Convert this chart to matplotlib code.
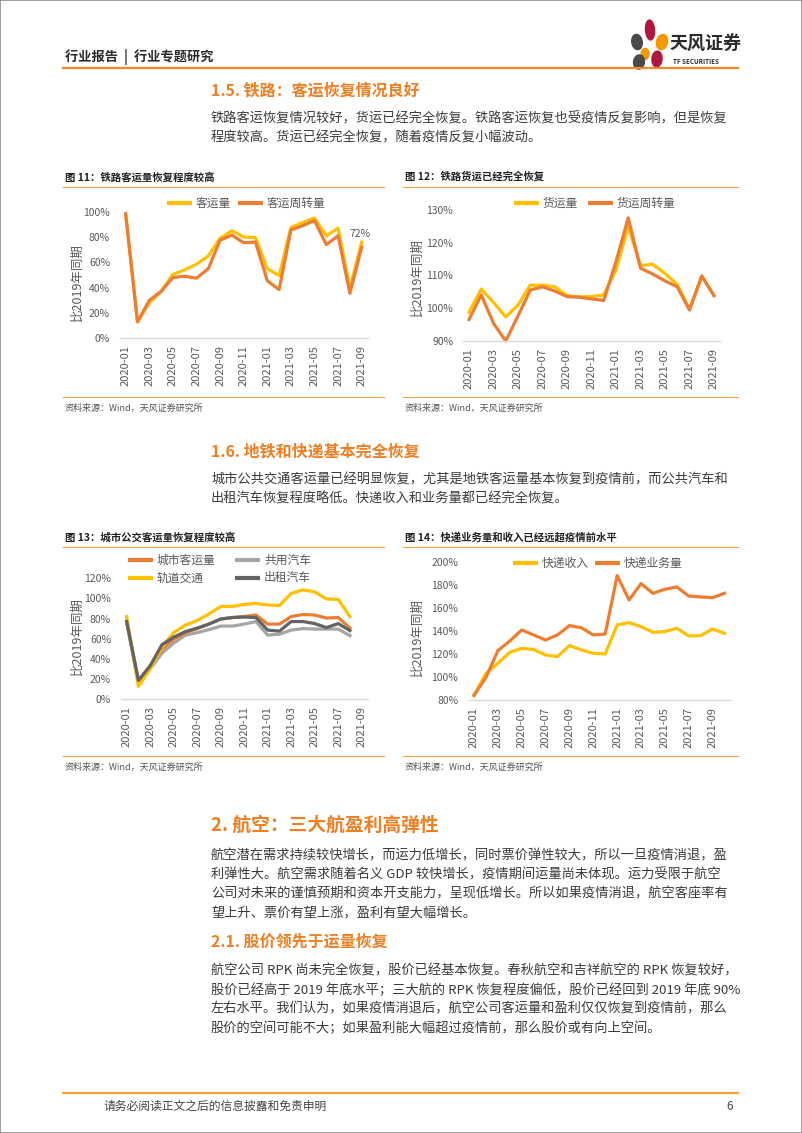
import matplotlib
matplotlib.use('Agg')
import matplotlib.pyplot as plt
from matplotlib.lines import Line2D
from matplotlib.patches import Ellipse, Rectangle

plt.rcParams['font.family'] = ['Noto Sans CJK SC', 'DejaVu Sans']

W, H = 802, 1133

months = ['2020-01', '2020-02', '2020-03', '2020-04', '2020-05', '2020-06',
          '2020-07', '2020-08', '2020-09', '2020-10', '2020-11', '2020-12',
          '2021-01', '2021-02', '2021-03', '2021-04', '2021-05', '2021-06',
          '2021-07', '2021-08', '2021-09', '2021-10']

# 图11 铁路客运
rail_pass = [97, 13, 28, 37, 50.5, 54, 58.5, 65, 79, 85, 80, 79.5, 55, 49.5,
             87.5, 91.5, 95, 81, 87, 39.5, 76]
rail_pass_km = [98.5, 13, 30, 37, 48, 49, 47.5, 55, 77.5, 81.5, 75.5, 76, 45.5, 38.5,
                85.5, 89, 93, 74, 81, 35.5, 72]

# 图12 铁路货运
rail_freight = [98.7, 105.8, 101.7, 97.3, 100.9, 107, 107, 106.5, 103.8, 103.4, 103.5, 104,
                111.6, 124.9, 113, 113.4, 110.6, 107.2, 99.6, 109.8, 103.8]
rail_freight_km = [96.5, 104, 95.3, 89.9, 97.6, 105.5, 106.5, 105.2, 103.5, 103.3, 102.8, 102.3,
                   114.2, 127.6, 112.2, 110.4, 108.3, 106.5, 99.4, 109.8, 103.8]

# 图13 城市公交
city_total = [77, 18, 33, 49.5, 59.5, 66, 70, 74.5, 79.5, 81, 82, 83.5, 74.5, 74.5,
              82, 84, 83.5, 80.5, 81, 70.5]
city_bus = [76.5, 15, 30, 45.5, 55.5, 63.5, 66, 69, 72.5, 72.5, 74.5, 77, 63.5, 64.5,
            68.5, 70, 69.5, 69.5, 69.5, 63]
city_metro = [82, 12.5, 30, 51.5, 66, 73.5, 78, 84.5, 92, 92, 94, 95, 93.5, 93,
              105, 108.5, 106.5, 99.5, 99, 82]
city_taxi = [77, 18.5, 33, 54, 61.5, 67, 70.5, 74.5, 79.5, 81, 81.5, 81, 68.5, 67.5,
             77, 77, 75, 71, 75, 68]

# 图14 快递
express_rev = [84, 103, 112, 121.5, 125, 124, 119.2, 117.8, 127.4, 123.6, 120.7, 120.1,
               145.4, 147.4, 143.9, 139, 139.6, 142.5, 135.8, 136.1, 141.9, 138.1]
express_vol = [84, 99.5, 123, 131.4, 141, 136.7, 132.3, 136.7, 144.8, 143, 136.7, 137.5,
               188.4, 167.2, 181.4, 173, 176.5, 178.5, 170.6, 169.8, 169.2, 173]

ORANGE = '#ED7D31'
GOLD = '#FFC000'
LGRAY = '#A5A5A5'
DGRAY = '#636363'
HEAD = '#EE7F22'
RULE = '#F0A048'
TXT = '#3A3A3A'
TICK = '#595959'

fig = plt.figure(figsize=(W / 100, H / 100), dpi=100)


def fx(x):
    return x / W


def fy(y):
    return 1 - y / H


def txt(x, y, s, size, color=TXT, weight='normal', ha='left', va='center', **kw):
    fig.text(fx(x), fy(y), s, fontsize=size, color=color, fontweight=weight,
             ha=ha, va=va, **kw)


def hline(x0, x1, y, color, lw):
    fig.add_artist(Line2D([fx(x0), fx(x1)], [fy(y), fy(y)], color=color, lw=lw,
                          transform=fig.transFigure))


def legend_item(x, y, color, label):
    fig.add_artist(Line2D([fx(x), fx(x + 25)], [fy(y), fy(y)], color=color, lw=3,
                          transform=fig.transFigure, solid_capstyle='butt'))
    txt(x + 29, y, label, 8.5, color=TICK)


def make_ax(left, top, right, bottom, ylim, yticks, n, nticks=21):
    ax = fig.add_axes([fx(left), fy(bottom), fx(right - left), (bottom - top) / H])
    ax.set_xlim(-0.5, n - 0.5)
    ax.set_ylim(*ylim)
    for s in ['top', 'right', 'left']:
        ax.spines[s].set_visible(False)
    ax.spines['bottom'].set_color('#D9D9D9')
    ax.spines['bottom'].set_linewidth(1)
    ax.set_yticks(yticks)
    ax.set_yticklabels([f'{v}%' for v in yticks])
    idx = list(range(0, nticks, 2))
    ax.set_xticks(idx)
    ax.set_xticklabels([months[i] for i in idx], rotation=90)
    ax.tick_params(axis='both', length=0, colors=TICK, labelsize=7.5)
    ax.tick_params(axis='x', labelsize=8, pad=5)
    ax.tick_params(axis='y', pad=7)
    return ax


def chart_frame(x0, x1, ytitle, title, yrule_top, yrule_bot, ysrc):
    txt(x0 + 2, ytitle, title, 7.5, color='#222222', weight='bold')
    hline(x0, x1, yrule_top, RULE, 0.8)
    hline(x0, x1, yrule_bot, RULE, 0.8)
    txt(x0 + 2, ysrc, '资料来源：Wind，天风证券研究所', 6.5, color='#555555')


# page frame
fig.add_artist(Rectangle((0, 0), 1, 1, transform=fig.transFigure, fill=False,
                         edgecolor='#8C8C8C', lw=1.2))

# header
txt(65, 57, '行业报告  |  行业专题研究', 9.5, color='#2B2B2B', weight='bold')
hline(63, 738, 68, '#EF8A24', 1.6)
logo = [((650, 30), 9, 20, 8, '#B0173E'), ((662, 42), 10, 17, -55, '#F39800'),
        ((637, 42), 10, 16, 40, '#4A4A4A'), ((645, 54), 8, 11, 70, '#F39800'),
        ((657, 59), 10, 16, -20, '#B0173E'), ((639, 62), 11, 14, 20, '#4A4A4A')]
for (cx, cy), w, h, ang, c in logo:
    fig.add_artist(Ellipse((fx(cx), fy(cy)), w / W, h / H, angle=ang, color=c,
                           transform=fig.transFigure))
txt(669, 44, '天风证券', 13, color='#2B2B2B', weight='bold')
txt(673, 61, 'TF SECURITIES', 4.5, color='#2B2B2B', weight='bold')

# section 1.5
txt(211, 90, '1.5. 铁路：客运恢复情况良好', 11.5, color=HEAD, weight='bold')
txt(211, 119, '铁路客运恢复情况较好，货运已经完全恢复。铁路客运恢复也受疫情反复影响，但是恢复', 9.5)
txt(211, 138, '程度较高。货运已经完全恢复，随着疫情反复小幅波动。', 9.5)

# chart 11
chart_frame(63, 384, 177, '图 11：铁路客运量恢复程度较高', 187, 397, 408)
ax = make_ax(119.8, 211.7, 367.6, 338.3, (0, 100), [0, 20, 40, 60, 80, 100], 21)
x = list(range(len(rail_pass)))
ax.plot(x, rail_pass, color=GOLD, lw=2.3, clip_on=False)
ax.plot(x, rail_pass_km, color=ORANGE, lw=2.3, clip_on=False)
ax.annotate(f'{rail_pass_km[-1]:.0f}%', (x[-1], rail_pass[-1]), xytext=(-1, 2),
            textcoords='offset points', ha='center', va='bottom', fontsize=7.5, color=TICK)
txt(77, 282, '比2019年同期', 9, color=TICK, rotation=90, ha='center')
legend_item(167, 203, GOLD, '客运量')
legend_item(238, 203, ORANGE, '客运周转量')

# chart 12
chart_frame(403, 738, 177, '图 12：铁路货运已经完全恢复', 187, 397, 408)
ax = make_ax(462.9, 210, 720.1, 340.7, (90, 130), [90, 100, 110, 120, 130], 21)
x = list(range(len(rail_freight)))
ax.plot(x, rail_freight, color=GOLD, lw=2.3, clip_on=False)
ax.plot(x, rail_freight_km, color=ORANGE, lw=2.3, clip_on=False)
txt(417, 277, '比2019年同期', 9, color=TICK, rotation=90, ha='center')
legend_item(514, 203, GOLD, '货运量')
legend_item(588, 203, ORANGE, '货运周转量')

# section 1.6
txt(211, 451, '1.6. 地铁和快递基本完全恢复', 11.5, color=HEAD, weight='bold')
txt(211, 480, '城市公共交通客运量已经明显恢复，尤其是地铁客运量基本恢复到疫情前，而公共汽车和', 9.5)
txt(211, 499, '出租汽车恢复程度略低。快递收入和业务量都已经完全恢复。', 9.5)

# chart 13
chart_frame(63, 384, 537, '图 13：城市公交客运量恢复程度较高', 547, 756, 767)
ax = make_ax(120.8, 578.3, 367.6, 699, (0, 120), [0, 20, 40, 60, 80, 100, 120], 21)
x = list(range(len(city_total)))
ax.plot(x, city_bus, color=LGRAY, lw=2.3, clip_on=False)
ax.plot(x, city_total, color=ORANGE, lw=2.3, clip_on=False)
ax.plot(x, city_metro, color=GOLD, lw=2.3, clip_on=False)
ax.plot(x, city_taxi, color=DGRAY, lw=2.3, clip_on=False)
txt(77, 636, '比2019年同期', 9, color=TICK, rotation=90, ha='center')
legend_item(128, 560, ORANGE, '城市客运量')
legend_item(235, 560, LGRAY, '共用汽车')
legend_item(128, 578, GOLD, '轨道交通')
legend_item(235, 578, DGRAY, '出租汽车')

# chart 14
chart_frame(403, 738, 537, '图 14：快递业务量和收入已经远超疫情前水平', 547, 756, 767)
ax = make_ax(468, 562.3, 730.5, 700, (80, 200), [80, 100, 120, 140, 160, 180, 200], 22)
x = list(range(len(express_rev)))
ax.plot(x, express_rev, color=GOLD, lw=2.3, clip_on=False)
ax.plot(x, express_vol, color=ORANGE, lw=2.3, clip_on=False)
txt(417, 637, '比2019年同期', 9, color=TICK, rotation=90, ha='center')
legend_item(513, 563, GOLD, '快递收入')
legend_item(595, 563, ORANGE, '快递业务量')

# section 2
txt(211, 825, '2. 航空：三大航盈利高弹性', 13.5, color=HEAD, weight='bold')
para2 = ['航空潜在需求持续较快增长，而运力低增长，同时票价弹性较大，所以一旦疫情消退，盈',
         '利弹性大。航空需求随着名义 GDP 较快增长，疫情期间运量尚未体现。运力受限于航空',
         '公司对未来的谨慎预期和资本开支能力，呈现低增长。所以如果疫情消退，航空客座率有',
         '望上升、票价有望上涨，盈利有望大幅增长。']
for i, line in enumerate(para2):
    txt(211, 856 + i * 19, line, 9.5)

txt(211, 942, '2.1. 股价领先于运量恢复', 11.5, color=HEAD, weight='bold')
para3 = ['航空公司 RPK 尚未完全恢复，股价已经基本恢复。春秋航空和吉祥航空的 RPK 恢复较好，',
         '股价已经高于 2019 年底水平；三大航的 RPK 恢复程度偏低，股价已经回到 2019 年底 90%',
         '左右水平。我们认为，如果疫情消退后，航空公司客运量和盈利仅仅恢复到疫情前，那么',
         '股价的空间可能不大；如果盈利能大幅超过疫情前，那么股价或有向上空间。']
for i, line in enumerate(para3):
    txt(211, 971 + i * 19, line, 9.5)

# footer
hline(63, 738, 1093, '#F2A43A', 1.6)
txt(103, 1106, '请务必阅读正文之后的信息披露和免责申明', 8.5, color='#444444')
txt(733, 1106, '6', 8.5, color='#444444', ha='right')

fig.savefig('out.png', dpi=100)
